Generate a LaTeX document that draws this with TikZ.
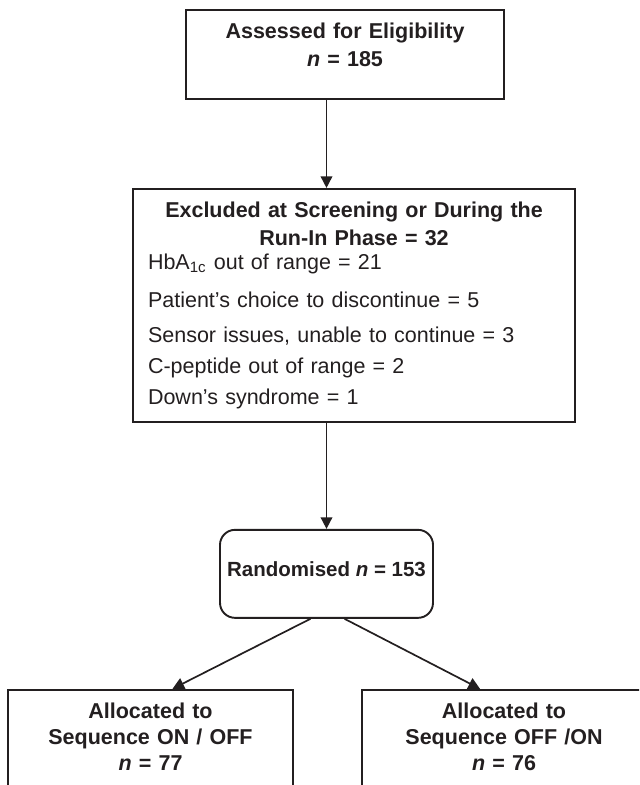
\documentclass[tikz,border=0pt]{standalone}
\usepackage{fontspec}
\setmainfont{Liberation Sans}
\usepackage{tikz}
\usetikzlibrary{positioning,arrows.meta}
\definecolor{ink}{RGB}{35,31,32}
\tikzset{
flowbox/.style={
draw=ink,
line width=0.95pt,
inner xsep=0pt,
inner ysep=6.5pt,
align=center,
text=ink,
font=\fontsize{10.75pt}{14pt}\selectfont\bfseries
},
roundbox/.style={
flowbox,
rounded corners=7.5pt,
minimum width=106.5pt,
minimum height=44pt,
font=\fontsize{10.25pt}{13pt}\selectfont\bfseries
},
arrow/.style={
-{Triangle[length=5.8pt,width=5.8pt]},
draw=ink,
line width=0.85pt
}
}

\begin{document}
\begin{tikzpicture}[node distance=44pt]
\useasboundingbox (0,0) rectangle (319.5pt,-392.5pt);
\clip (0,0) rectangle (319.5pt,-392.5pt);
\node[flowbox,text width=159pt,minimum height=44.5pt](assess) at (172.5pt,-27.25pt){Assessed for Eligibility\\\textit{n} = 185\\[-4.3pt]\mbox{}};
\node[flowbox,below=of assess,xshift=4.5pt,text width=206pt,inner xsep=7.5pt,minimum height=115.5pt,align=left,font=\fontsize{10.75pt}{14pt}\selectfont](excl){{\bfseries\centering Excluded at Screening or During the\\Run-In Phase = 32\par}
\vspace{-2pt}HbA\textsubscript{1c} out of range = 21\\[5pt]
Patient's choice to discontinue = 5\\[3.5pt]
Sensor issues, unable to continue = 3\\[1.5pt]
C-peptide out of range = 2\\[1.5pt]
Down's syndrome = 1};
\node[roundbox,below=53pt of excl,xshift=-13.75pt,text depth=5pt](rand){Randomised \textit{n} = 153};
\node[flowbox,below=35pt of rand,xshift=-88pt,text width=142.5pt,font=\fontsize{10.75pt}{13pt}\selectfont\bfseries](onoff){Allocated to\\Sequence ON / OFF\\\textit{n} = 77\\[20pt]\mbox{}};
\node[flowbox,below=35pt of rand,xshift=88.75pt,text width=142pt,font=\fontsize{10.75pt}{13pt}\selectfont\bfseries](offon){Allocated to\\Sequence OFF /ON\\\textit{n} = 76\\[20pt]\mbox{}};

\draw[arrow](assess.south -| rand.north)--(excl.north -| rand.north);
\draw[arrow](excl.south -| rand.north)--(rand.north);
\draw[arrow]([xshift=-8pt]rand.south)--([xshift=11pt]onoff.north);
\draw[arrow]([xshift=9pt]rand.south)--([xshift=-12pt]offon.north);
\end{tikzpicture}
\end{document}
